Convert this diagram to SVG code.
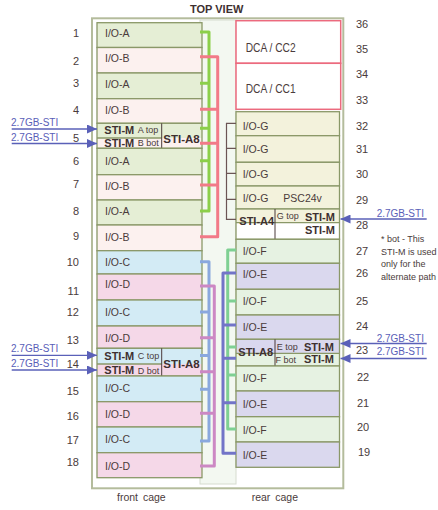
<svg xmlns="http://www.w3.org/2000/svg" width="438" height="510" viewBox="0 0 438 510">
<defs>
<style>
text{font-family:"Liberation Sans",Arial,sans-serif;fill:#4a3b3b}
.n{font-size:11px}
.l{font-size:10.5px}
.b{font-size:11px;font-weight:bold;fill:#3e3030}
.b2{font-size:11.5px;font-weight:bold;fill:#3e3030}
.s{font-size:9px}
.dca{font-size:12px}
.note{font-size:9px}
.sti{font-size:10px;fill:#5a60b8}
.row{stroke:#8a9868;stroke-width:1.3}
.nf{fill:none}
.sep{stroke:#4a3b3b;stroke-width:1}
.A{fill:#e5eed5}.B{fill:#fcf1ef}.C{fill:#d3ebf5}.D{fill:#f5d8e8}.G{fill:#f3f2dc}.F{fill:#e6f2e2}.E{fill:#dad8ee}.W{fill:#ffffff}
.dcab{fill:#fff;stroke:#ec6a7e;stroke-width:1.5}
.bus{fill:none;stroke-width:3;stroke-linejoin:round}
.arw{stroke:#5a60b8;stroke-width:1.3;fill:none;marker-end:url(#ah)}
</style>
<marker id="ah" markerUnits="userSpaceOnUse" viewBox="0 0 10 9" refX="10" refY="4.5" markerWidth="10" markerHeight="9" orient="auto"><path d="M0,0L10,4.5L0,9z" fill="#5a60b8"/></marker>
</defs>
<rect x="0" y="0" width="438" height="510" fill="#fff"/>
<text class="b" x="190" y="13">TOP VIEW</text>
<rect x="92" y="18.3" width="251.3" height="470" fill="#fff" stroke="#b4bc9c" stroke-width="2"/>
<rect x="200" y="20" width="36" height="464" fill="#f3f8f1" stroke="#d6dccf" stroke-width="1"/>

<g id="front-cage">
<g id="f1"><rect class="row A" x="97" y="22.7" width="105" height="24.8"/><text class="l" x="105" y="37">I/O-A</text></g>
<g id="f2"><rect class="row B" x="97" y="47.5" width="105" height="25.5"/><text class="l" x="105" y="61.5">I/O-B</text></g>
<g id="f3"><rect class="row A" x="97" y="73" width="105" height="25.7"/><text class="l" x="105" y="88">I/O-A</text></g>
<g id="f4"><rect class="row B" x="97" y="98.7" width="105" height="24.6"/><text class="l" x="105" y="114">I/O-B</text></g>
<g id="f5">
<rect class="A" x="97" y="123.3" width="105" height="14.7"/><rect class="B" x="97" y="138" width="105" height="10.3"/>
<rect class="row nf" x="97" y="123.3" width="105" height="25"/>
<line class="row" x1="97" y1="138" x2="161.7" y2="138"/>
<line class="sep" x1="161.7" y1="123.3" x2="161.7" y2="148.3"/>
<text class="b" x="104.3" y="134">STI-M</text><text class="s" x="137.7" y="132.7">A top</text>
<text class="b" x="104.3" y="146.7">STI-M</text><text class="s" x="137.7" y="145.7">B bot</text>
<text class="b2" x="163.3" y="143.3">STI-A8</text>
</g>
<g id="f6"><rect class="row A" x="97" y="148.3" width="105" height="26.4"/><text class="l" x="105" y="164.7">I/O-A</text></g>
<g id="f7"><rect class="row B" x="97" y="174.7" width="105" height="25.3"/><text class="l" x="105" y="189.7">I/O-B</text></g>
<g id="f8"><rect class="row A" x="97" y="200" width="105" height="25"/><text class="l" x="105" y="214.7">I/O-A</text></g>
<g id="f9"><rect class="row B" x="97" y="225" width="105" height="25.7"/><text class="l" x="105" y="241.3">I/O-B</text></g>
<g id="f10"><rect class="row C" x="97" y="250.7" width="105" height="23.3"/><text class="l" x="105" y="265.7">I/O-C</text></g>
<g id="f11"><rect class="row D" x="97" y="274" width="105" height="26"/><text class="l" x="105" y="288">I/O-D</text></g>
<g id="f12"><rect class="row C" x="97" y="300" width="105" height="26"/><text class="l" x="105" y="316.3">I/O-C</text></g>
<g id="f13"><rect class="row D" x="97" y="326" width="105" height="22.3"/><text class="l" x="105" y="342">I/O-D</text></g>
<g id="f14">
<rect class="C" x="97" y="348.3" width="105" height="15.7"/><rect class="D" x="97" y="364" width="105" height="12"/>
<rect class="row nf" x="97" y="348.3" width="105" height="27.7"/>
<line class="row" x1="97" y1="364" x2="161.7" y2="364"/>
<line class="sep" x1="161.7" y1="348.3" x2="161.7" y2="376"/>
<text class="b" x="104.3" y="360">STI-M</text><text class="s" x="137.7" y="359">C top</text>
<text class="b" x="104.3" y="374">STI-M</text><text class="s" x="137.7" y="373.5">D bot</text>
<text class="b2" x="163.3" y="368">STI-A8</text>
</g>
<g id="f15"><rect class="row C" x="97" y="376" width="105" height="25.7"/><text class="l" x="105" y="392">I/O-C</text></g>
<g id="f16"><rect class="row D" x="97" y="401.7" width="105" height="25.3"/><text class="l" x="105" y="418">I/O-D</text></g>
<g id="f17"><rect class="row C" x="97" y="427" width="105" height="25.7"/><text class="l" x="105" y="443">I/O-C</text></g>
<g id="f18"><rect class="row D" x="97" y="452.7" width="105" height="25"/><text class="l" x="105" y="469.7">I/O-D</text></g>
</g>

<g id="rear-cage">
<g id="dca2"><rect class="dcab" x="236" y="20.7" width="104.7" height="42.6"/><text class="dca" x="245.7" y="51.5" textLength="50" lengthAdjust="spacingAndGlyphs">DCA / CC2</text></g>
<g id="dca1"><rect class="dcab" x="236" y="63.3" width="104.7" height="46"/><text class="dca" x="245.7" y="93.3" textLength="50" lengthAdjust="spacingAndGlyphs">DCA / CC1</text></g>
<g id="r32"><rect class="row G" x="236" y="111.7" width="103.5" height="24"/><text class="l" x="242.7" y="130">I/O-G</text></g>
<g id="r31"><rect class="row G" x="236" y="135.7" width="103.5" height="26.6"/><text class="l" x="242.7" y="153.3">I/O-G</text></g>
<g id="r30"><rect class="row G" x="236" y="162.3" width="103.5" height="23.7"/><text class="l" x="242.7" y="178.3">I/O-G</text></g>
<g id="r29"><rect class="row G" x="236" y="186" width="103.5" height="23"/><text class="l" x="242.7" y="202.3">I/O-G</text><text class="l" x="283.3" y="202.3">PSC24v</text></g>
<g id="r28">
<rect class="G" x="236" y="209" width="103.5" height="13.7"/><rect class="W" x="236" y="222.7" width="103.5" height="16.6"/>
<rect class="row nf" x="236" y="209" width="103.5" height="30.3"/>
<line class="row" x1="236" y1="222.7" x2="339.5" y2="222.7"/>
<line class="sep" x1="275" y1="209" x2="275" y2="239.3"/>
<text class="b" x="239.3" y="225">STI-A4</text><text class="s" x="276.7" y="219.3">G top</text>
<text class="b" x="305" y="220.5">STI-M</text><text class="b" x="305" y="234">STI-M</text>
</g>
<g id="r27"><rect class="row F" x="236" y="239.3" width="103.5" height="24"/><text class="l" x="242.7" y="255">I/O-F</text></g>
<g id="r26"><rect class="row E" x="236" y="263.3" width="103.5" height="26"/><text class="l" x="242.7" y="278.3">I/O-E</text></g>
<g id="r25"><rect class="row F" x="236" y="289.3" width="103.5" height="25.7"/><text class="l" x="242.7" y="305">I/O-F</text></g>
<g id="r24"><rect class="row E" x="236" y="315" width="103.5" height="24.3"/><text class="l" x="242.7" y="330.7">I/O-E</text></g>
<g id="r23">
<rect class="E" x="236" y="339.3" width="103.5" height="14"/><rect class="F" x="236" y="353.3" width="103.5" height="12.7"/>
<rect class="row nf" x="236" y="339.3" width="103.5" height="26.7"/>
<line class="row" x1="236" y1="353.3" x2="339.5" y2="353.3"/>
<line class="sep" x1="275" y1="339.3" x2="275" y2="366"/>
<text class="b" x="238.3" y="355.5">STI-A8</text><text class="s" x="276.7" y="350">E top</text>
<text class="b" x="304" y="350.5">STI-M</text><text class="s" x="275.5" y="362.5">F bot</text>
<text class="b" x="304" y="363">STI-M</text>
</g>
<g id="r22"><rect class="row F" x="236" y="366" width="103.5" height="25"/><text class="l" x="242.7" y="382">I/O-F</text></g>
<g id="r21"><rect class="row E" x="236" y="391" width="103.5" height="25.7"/><text class="l" x="242.7" y="408">I/O-E</text></g>
<g id="r20"><rect class="row F" x="236" y="416.7" width="103.5" height="25.3"/><text class="l" x="242.7" y="433.7">I/O-F</text></g>
<g id="r19"><rect class="row E" x="236" y="442" width="103.5" height="25.3"/><text class="l" x="242.7" y="458.7">I/O-E</text></g>
</g>

<g id="connectors">
<path class="bus" stroke="#8ccf4a" d="M200,32H209V211H200M200,83.3H209M200,128.3H209M200,160.7H209"/>
<path class="bus" stroke="#8aa8de" d="M200,261.7H209V441H200M200,312H209M200,355.5H209M200,389.3H209"/>
<path class="bus" stroke="#7fd093" d="M236,250H227.7V429H236M227.7,301H236M227.7,347H236M227.7,375H236"/>
<path class="bus" stroke="#f27a88" d="M200,56.7H217.7V236.7H200M200,109.3H217.7M200,143.3H217.7M200,185H217.7"/>
<path class="bus" stroke="#cc88c4" d="M200,286H214.3V466H200M200,337.7H214.3M200,371.7H214.3M200,413.3H214.3"/>
<path class="bus" stroke="#7274c8" d="M236,273H223V453.3H236M223,325H236M223,358.3H236M223,402.7H236"/>
<path fill="none" stroke="#6b5555" stroke-width="1.2" d="M236,123.3H226.5V219.3H236M226.5,148.3H236M226.5,173.3H236M226.5,199.3H236"/>
<path class="arw" d="M11.7,129H97"/>
<path class="arw" d="M11.7,143.5H97"/>
<path class="arw" d="M11.7,355.3H97"/>
<path class="arw" d="M11.7,370H97"/>
<path class="arw" d="M426.7,219H340.5"/>
<path class="arw" d="M426.7,343.5H340.5"/>
<path class="arw" d="M426.7,358.5H340.5"/>
</g>

<g id="sti-labels">
<text class="sti" x="11" y="126">2.7GB-STI</text>
<text class="sti" x="11" y="140.5">2.7GB-STI</text>
<text class="sti" x="11" y="351.5">2.7GB-STI</text>
<text class="sti" x="11" y="366.5">2.7GB-STI</text>
<text class="sti" x="376.7" y="216.5">2.7GB-STI</text>
<text class="sti" x="376.7" y="341.5">2.7GB-STI</text>
<text class="sti" x="376.7" y="355">2.7GB-STI</text>
</g>

<g id="slot-numbers-front" text-anchor="end">
<text class="n" x="79" y="37">1</text><text class="n" x="79" y="64.7">2</text><text class="n" x="79" y="87">3</text>
<text class="n" x="79" y="113.7">4</text><text class="n" x="79" y="141.7">5</text><text class="n" x="79" y="164.7">6</text>
<text class="n" x="79" y="188">7</text><text class="n" x="79" y="214.7">8</text><text class="n" x="79" y="239.7">9</text>
<text class="n" x="79" y="266.4">10</text><text class="n" x="79" y="294.7">11</text><text class="n" x="79" y="315.7">12</text>
<text class="n" x="79" y="343.7">13</text><text class="n" x="79" y="367.7">14</text><text class="n" x="79" y="394.7">15</text>
<text class="n" x="79" y="419.7">16</text><text class="n" x="79" y="443.7">17</text><text class="n" x="79" y="466.4">18</text>
</g>
<g id="slot-numbers-rear">
<text class="n" x="356" y="28">36</text><text class="n" x="356" y="52.5">35</text><text class="n" x="356" y="78">34</text>
<text class="n" x="356" y="103.5">33</text><text class="n" x="356" y="130">32</text><text class="n" x="356" y="153">31</text>
<text class="n" x="356" y="178">30</text><text class="n" x="356" y="203.5">29</text><text class="n" x="356" y="229">28</text>
<text class="n" x="356" y="254.5">27</text><text class="n" x="356" y="277">26</text><text class="n" x="356" y="304.5">25</text>
<text class="n" x="356" y="329.5">24</text><text class="n" x="356" y="353.5">23</text><text class="n" x="357" y="380.5">22</text>
<text class="n" x="357" y="406.5">21</text><text class="n" x="357" y="430.5">20</text><text class="n" x="358" y="456">19</text>
</g>

<g id="note">
<text class="note" x="381" y="241.5">* bot - This</text>
<text class="note" x="381" y="254.5">STI-M is used</text>
<text class="note" x="381" y="267">only for the</text>
<text class="note" x="381" y="279.5">alternate path</text>
</g>

<g id="cage-labels">
<text class="l" x="117" y="501" word-spacing="2">front cage</text>
<text class="l" x="251.7" y="501" word-spacing="2">rear cage</text>
</g>
</svg>
